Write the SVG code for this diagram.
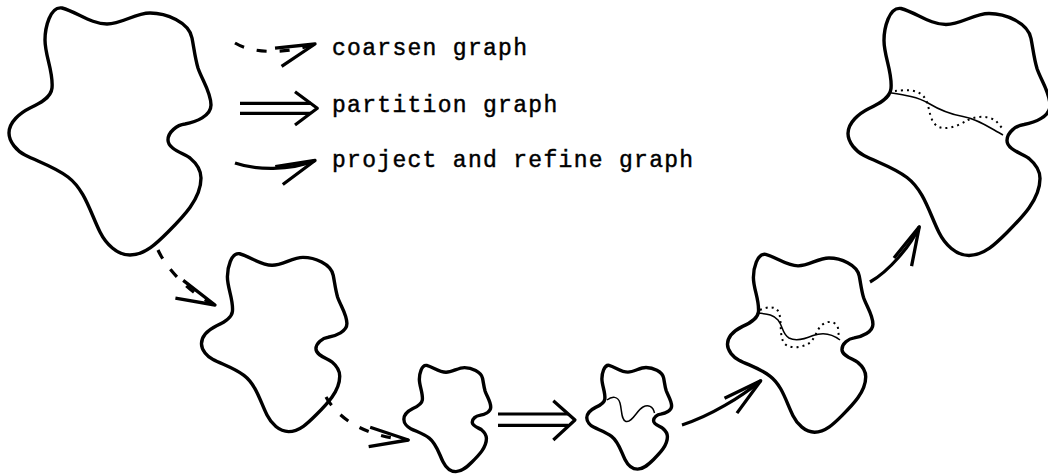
<svg xmlns="http://www.w3.org/2000/svg" xmlns:xlink="http://www.w3.org/1999/xlink" width="1048" height="476" viewBox="0 0 1048 476">
  <style>
    .outline { fill: none; stroke: #000; stroke-linejoin: round; }
    .cut { fill: none; stroke: #000; stroke-width: 1.5; }
    .dots { fill: none; stroke: #000; stroke-width: 2; stroke-dasharray: 2 4; }
    .shaft { fill: none; stroke: #000; stroke-width: 3.2; }
    .dash { fill: none; stroke: #000; stroke-width: 3.2; stroke-dasharray: 10 13; }
    .dbl { fill: none; stroke: #000; stroke-width: 3.2; }
    .label { font-family: "Liberation Mono", "DejaVu Sans Mono", monospace; font-size: 23px; letter-spacing: 1.3px; fill: #000; stroke: #000; stroke-width: 0.45; }
  </style>
  <defs>
    <path id="blob" class="outline" d="M45,40 C45,28 50,6 62,8 C77,12 91,24 107,24 C122,24 135,13 150,13 C166,13 189,22 192,38 C194,48 195,58 198,68 C202,80 211,92 211,105 C211,116 196,122 185,124 C177,125 168,132 168,140 C168,149 183,153 190,158 C196,163 201,170 201,178 C201,199 183,217 168,232 C157,243 145,255 130,255 C117,255 106,244 100,232 C90.5,213 85,190 68,177 C55,167 39,162 25,155 C17,151 9,142 9,133 C9,122 20,113 30,108 C39,104 51,98 52,88 C53.6,72 45,56 45,40 Z"/>
    <marker id="head" markerUnits="userSpaceOnUse" orient="auto" refX="0" refY="0" markerWidth="90" markerHeight="90" viewBox="-45 -45 90 90" overflow="visible">
      <path d="M-39,-9.7 L0,0 L-39,9.7" fill="none" stroke="#000" stroke-width="3.3" stroke-linejoin="round" stroke-dasharray="none"/>
    </marker>
  </defs>

  <g id="graph1">
    <use xlink:href="#blob" href="#blob" stroke-width="3.4"/>
  </g>
  <g id="graph2">
    <use xlink:href="#blob" href="#blob" transform="translate(195,248) scale(0.72)" stroke-width="4.72"/>
  </g>
  <g id="graph3">
    <use xlink:href="#blob" href="#blob" transform="translate(400,362) scale(0.43)" stroke-width="7.9"/>
  </g>
  <g id="graph4">
    <use xlink:href="#blob" href="#blob" transform="translate(583,362) scale(0.42)" stroke-width="8.1"/>
    <path class="cut" d="M607,400 C612,396 618,396 620,403 C622,410 621,420 626,421.5 C632,423 637,410 643,407 C648,404.5 653,406 654.5,413"/>
  </g>
  <g id="graph5">
    <use xlink:href="#blob" href="#blob" transform="translate(721,248.6) scale(0.72)" stroke-width="4.72"/>
    <path class="cut" d="M758,313 C766,314 773,314 778,320 C783,326 782,334 789,338 C795,341 805,339 813,335.5 C820,333 830,332 840,340"/>
    <path class="dots" d="M760,310 C767,307 776,305 779,313 C782,321 779,335 784,343 C789,349 800,348 808,344 C815,340 816,330 822,325 C828,320 836,321 838,328 L839,338"/>
  </g>
  <g id="graph6">
    <use xlink:href="#blob" href="#blob" transform="translate(839,0.5)" stroke-width="3.4"/>
    <path class="cut" d="M890,92.7 C905,95 918,97 928,103 C938,109 948,114 963,116.5 C978,119 990,128 1003,135"/>
    <path class="dots" d="M895,91 C905,90 920,88 926,100 C930,108 929,120 937,126 C945,131 958,126 966,121 C974,116 988,115 996,121 L1002,128"/>
  </g>

  <g id="connectors">
    <path class="dash" d="M158,250 C166,268 190,294 215,305" marker-end="url(#head)"/>
    <path class="dash" d="M326,397 C340,422 370,437 408.3,440" marker-end="url(#head)"/>
    <g id="partition-arrow">
      <path class="dbl" d="M498,414 L568,414 M498,425.3 L568,425.3"/>
      <path class="dbl" d="M553.3,400.7 L575,420 L553.3,440" stroke-linejoin="round"/>
    </g>
    <path class="shaft" d="M682,425 C710.5,416 741.5,396.7 760.7,380.7" marker-end="url(#head)"/>
    <path class="shaft" d="M870,282 C889,271 910,246.6 919.3,226.7" marker-end="url(#head)"/>
  </g>

  <g id="legend">
    <path class="dash" d="M235,43 C255,55 290,53 315,44" marker-end="url(#head)"/>
    <path class="dbl" d="M240,103.3 L311,103.3 M240,113.3 L311,113.3"/>
    <path class="dbl" d="M295,91.7 L317.3,108.3 L295,125" stroke-linejoin="round"/>
    <path class="shaft" d="M235,163 C255,170 290,171 315,160.5" marker-end="url(#head)"/>
    <text class="label" x="332" y="55">coarsen graph</text>
    <text class="label" x="332" y="112">partition graph</text>
    <text class="label" x="332" y="167">project and refine graph</text>
  </g>
</svg>
